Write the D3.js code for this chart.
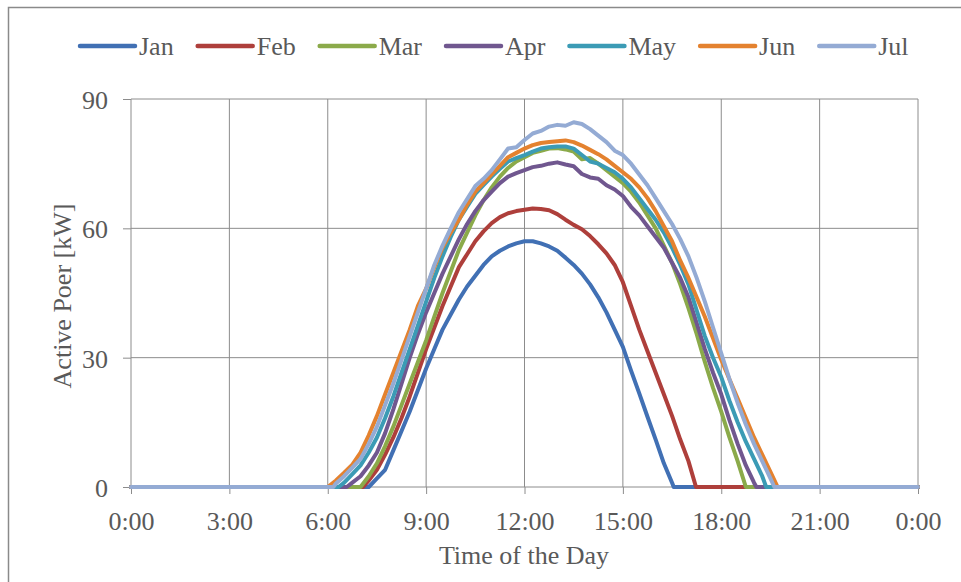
<!DOCTYPE html>
<html lang="en">
<head>
  <meta charset="UTF-8">
  <title>Active Power by Month</title>
  <script src="https://d3js.org/d3.v7.min.js"></script>
  <style>
    body { margin: 0; background: #fff; }
    text { font-family: "Liberation Serif", "Times New Roman", serif; fill: #595959; }
    .grid line { stroke: #8c8c8c; stroke-width: 1; }
    .series { fill: none; stroke-width: 4; stroke-linejoin: round; stroke-linecap: round; }
  </style>
</head>
<body>
  <svg width="961" height="582"></svg>

  <script>
    var months = ["Jan", "Feb", "Mar", "Apr", "May", "Jun", "Jul"];
    var colors = ["#4170b4", "#ae3f3b", "#8baa4a", "#70578f", "#3b9bb5", "#e4822f", "#94abd4"];

    // sun-up / sun-down times (hours) where each curve leaves and returns to zero
    var startHour = [7.25, 7.08, 7.0, 6.58, 6.33, 6.0, 6.17];
    var endHour = [16.55, 17.23, 18.75, 19.07, 19.37, 19.72, 19.62];

    // readings every 15 minutes from 6:00 to 20:00 (kW)
    var jan = [0, 0, 0, 0,  0, 0, 2, 4,  8.5, 13, 17.5, 22.5,  27.5, 32, 36.5, 40,
      43.5, 46.5, 49, 51.5,  53.5, 54.8, 55.8, 56.5,  57, 57, 56.5, 55.8,  54.8, 53.2, 51.5, 49.5,
      47, 44, 40.5, 36.5,  32.5, 27, 21.7, 16.3,  11, 5.5, 1, 0,  0, 0, 0, 0,  0, 0, 0, 0,  0, 0, 0, 0,  0];
    var feb = [0, 0, 0, 0,  0, 1.5, 4, 7.5,  11.5, 16, 21, 26.5,  32, 37, 42, 46.5,
      51, 54, 57, 59.3,  61.2, 62.6, 63.5, 64,  64.3, 64.6, 64.5, 64.2,  63.3, 62, 60.8, 59.8,
      58.2, 56.3, 54.2, 51.5,  47.5, 42, 36.5, 31.5,  26.5, 21.5, 16.5, 11,  6, 1, 0, 0,  0, 0, 0, 0,  0, 0, 0, 0,  0];
    var mar = [0, 0, 0, 0,  0, 2.5, 5.5, 9.5,  14, 19, 24, 29,  34, 39.5, 45, 50,
      55, 59, 63, 66.5,  69.5, 72, 74, 75.5,  76.5, 77.5, 78, 78.5,  78.6, 78.3, 77.8, 76,
      76.3, 75, 73.5, 72,  70.5, 68.5, 66, 63,  60, 56, 52, 47,  41.5, 35.5, 29, 23,  17.5, 11.5, 6, 0,  0, 0, 0, 0,  0];
    var apr = [0, 0, 0, 1,  2.5, 5, 8, 12.5,  18, 24, 30, 35.5,  40.5, 45, 49.5, 53.5,
      57.5, 61, 64, 66.5,  68.5, 70.5, 72, 72.8,  73.5, 74.2, 74.5, 75,  75.3, 74.8, 74.4, 72.6,
      71.8, 71.5, 70, 69,  67.5, 65, 63, 60.5,  58, 55.5, 52, 48.5,  44, 38, 32, 26.5,  21.5, 15.5, 10, 5,  1, 0, 0, 0,  0];
    var may = [0, 0, 1, 3,  5, 8, 11.5, 16,  21, 26.5, 32, 37.5,  43, 48.5, 53.5, 58,
      62, 65, 68, 70,  72, 73.8, 75.5, 76.3,  77, 77.8, 78.5, 78.8,  79, 79, 78.5, 77,
      75.5, 75, 74, 73,  71.5, 69.5, 67, 64.5,  62, 59, 55.5, 51.5,  47, 41, 35, 30,  25.5, 20, 15, 10.5,  6.5, 2.5, 0, 0,  0];
    var jun = [0, 1.5, 3.3, 5.2,  8, 12, 16.5, 21.5,  26.5, 31.5, 36.5, 42,  46, 51, 55.5, 59,
      62, 65.5, 68.5, 70.5,  72.5, 74.5, 76.5, 77.5,  78.5, 79.3, 79.8, 80,  80.2, 80.4, 80, 79.2,
      78.2, 77.2, 76, 74.5,  73, 71.5, 69.5, 67,  64, 60.5, 57, 52.5,  48.5, 44, 39.5, 34.5,  29.5, 25, 20.5, 16,  11.5, 7.5, 3.5, 0,  0];
    var jul = [0, 0.8, 2.5, 4.5,  6.5, 10, 14, 19,  24, 29.5, 35, 40.5,  46, 51.5, 56, 60,
      63.8, 66.8, 69.8, 71.5,  73.5, 76, 78.5, 78.8,  80.5, 82, 82.6, 83.6,  84, 83.8, 84.6, 84.2,
      83, 81.5, 80, 78,  77, 75, 72.5, 70,  67, 64, 61, 57.5,  53.5, 48.5, 43, 37,  31, 25, 19.5, 14.5,  10, 6, 2, 0,  0];
    var values = [jan, feb, mar, apr, may, jun, jul];

    var xTickLabels = ["0:00", "3:00", "6:00", "9:00", "12:00", "15:00", "18:00", "21:00", "0:00"];
    var yTicks = [0, 30, 60, 90];

    var svg = d3.select("svg");
    var gridHours = d3.range(6, 20.001, 0.25);

    var x = d3.scaleLinear().domain([0, 24]).range([131, 918]);
    var y = d3.scaleLinear().domain([0, 90]).range([487, 99]);

    // outer frame
    svg.append("path")
        .attr("d", "M8.5,582V7.5H961")
        .attr("fill", "none")
        .attr("stroke", "#8a8a8a")
        .attr("stroke-width", 1.5);

    // gridlines
    var grid = svg.append("g").attr("class", "grid");
    grid.selectAll(".v").data(d3.range(0, 25, 3)).enter().append("line")
        .attr("x1", function(d) { return x(d); })
        .attr("x2", function(d) { return x(d); })
        .attr("y1", y(90)).attr("y2", y(0));
    grid.selectAll(".h").data(yTicks).enter().append("line")
        .attr("x1", x(0)).attr("x2", x(24))
        .attr("y1", function(d) { return y(d); })
        .attr("y2", function(d) { return y(d); });

    // axes
    var xAxis = d3.axisBottom(x)
        .tickValues(d3.range(0, 25, 3))
        .tickSize(7)
        .tickFormat(function(d, i) { return xTickLabels[i]; });
    var gx = svg.append("g").attr("transform", "translate(0," + y(0) + ")").call(xAxis);
    gx.select(".domain").remove();
    gx.selectAll("line").attr("stroke", "#8c8c8c");
    gx.selectAll("text").attr("y", 43).attr("dy", null).style("font-size", "26px").attr("fill", "#595959");

    var yAxis = d3.axisLeft(y).tickValues(yTicks).tickSize(8);
    var gy = svg.append("g").attr("transform", "translate(" + x(0) + ",0)").call(yAxis);
    gy.select(".domain").remove();
    gy.selectAll("line").attr("stroke", "#8c8c8c");
    gy.selectAll("text").attr("x", -23).attr("dy", "0.36em").style("font-size", "26px").attr("fill", "#595959");
    svg.selectAll(".tick text").attr("font-family", null);

    // series
    var line = d3.line()
        .x(function(d) { return x(d[0]); })
        .y(function(d) { return y(d[1]); });

    months.forEach(function(m, i) {
      var pts = [[0, 0], [startHour[i], 0]];
      gridHours.forEach(function(h, j) {
        if (h > startHour[i] && h < endHour[i]) pts.push([h, values[i][j]]);
      });
      pts.push([endHour[i], 0], [24, 0]);
      svg.append("path")
          .datum(pts)
          .attr("class", "series")
          .attr("stroke", colors[i])
          .attr("d", line);
    });

    // axis titles
    svg.append("text")
        .attr("x", 524).attr("y", 564)
        .attr("text-anchor", "middle")
        .style("font-size", "26px")
        .text("Time of the Day");
    svg.append("text")
        .attr("transform", "translate(71,296) rotate(-90)")
        .attr("text-anchor", "middle")
        .style("font-size", "26px")
        .text("Active Poer [kW]");

    // legend
    var lx = 80;
    months.forEach(function(m, i) {
      svg.append("line")
          .attr("x1", lx).attr("x2", lx + 55)
          .attr("y1", 46).attr("y2", 46)
          .attr("stroke", colors[i])
          .attr("stroke-width", 4.5)
          .attr("stroke-linecap", "round");
      var t = svg.append("text")
          .attr("x", lx + 59).attr("y", 55)
          .style("font-size", "26px")
          .text(m);
      lx += 59 + t.node().getComputedTextLength() + 24;
    });
  </script>
</body>
</html>
